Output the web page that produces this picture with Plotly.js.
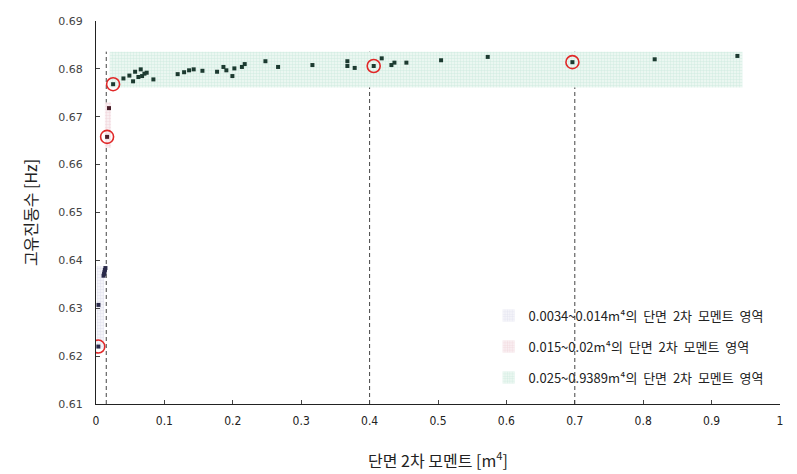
<!DOCTYPE html>
<html><head><meta charset="utf-8">
<script src="https://cdn.plot.ly/plotly-3.0.1.min.js"></script>
<style>body{margin:0;background:#fff}#c{width:797px;height:474px}</style>
</head><body><div id="c"></div>
<script>
// Region 1: 0.0034~0.014 m^4
const r1X = [0.0034, 0.0036, 0.0110, 0.0118, 0.0125, 0.0130, 0.0138];
const r1Y = [0.6220, 0.6307, 0.6368, 0.6372, 0.6376, 0.6380, 0.6384];
// Region 2: 0.015~0.02 m^4
const r2X = [0.0162, 0.0190];
const r2Y = [0.6658, 0.6718];
// Region 3: 0.025~0.9389 m^4
const r3X = [0.0250, 0.0401, 0.0488, 0.0542, 0.0572, 0.0620, 0.0654, 0.0674, 0.0708, 0.0741, 0.0839,
             0.1194, 0.1288, 0.1361, 0.1428, 0.1556, 0.1770, 0.1863, 0.1906, 0.1994, 0.2023, 0.2133, 0.2174,
             0.2477, 0.2662, 0.3164, 0.3675, 0.3675, 0.3782, 0.4060, 0.4177, 0.4319, 0.4363, 0.4538,
             0.5045, 0.5727, 0.6965, 0.8168, 0.9377];
const r3Y = [0.6768, 0.6780, 0.6786, 0.6774, 0.6794, 0.6783, 0.6799, 0.6785, 0.6790, 0.6792, 0.6778,
             0.6789, 0.6793, 0.6797, 0.6799, 0.6796, 0.6794, 0.6804, 0.6797, 0.6785, 0.6801, 0.6804, 0.6810,
             0.6816, 0.6804, 0.6808, 0.6816, 0.6806, 0.6802, 0.6806, 0.6822, 0.6808, 0.6813, 0.6813,
             0.6818, 0.6825, 0.6814, 0.6820, 0.6827];
// Highlighted (circled) points
const hiX = [0.0034, 0.0162, 0.0250, 0.4060, 0.6965];
const hiY = [0.6220, 0.6658, 0.6768, 0.6806, 0.6814];
// Region boxes [x0, x1, y0, y1]
const box1 = [0.001, 0.012, 0.6215, 0.6388];
const box2 = [0.013, 0.022, 0.6635, 0.6730];
const box3 = [0.020, 0.945, 0.6761, 0.6836];
// Dashed boundary lines
const dashX = [0.015, 0.4, 0.7];
const dashTop = 0.6836;
const legendNames = ['0.0034~0.014m⁴의  단면  2차  모멘트  영역',
                     '0.015~0.02m⁴의  단면  2차  모멘트  영역',
                     '0.025~0.9389m⁴의  단면  2차  모멘트  영역'];
const xTicks = [0, 0.1, 0.2, 0.3, 0.4, 0.5, 0.6, 0.7, 0.8, 0.9, 1];
const xTickText = ['0', '0.1', '0.2', '0.3', '0.4', '0.5', '0.6', '0.7', '0.8', '0.9', '1'];
const yTicks = [0.61, 0.62, 0.63, 0.64, 0.65, 0.66, 0.67, 0.68, 0.69];

const styles = [
  {fg: '#e6e6f1', bg: '#f9f9fc', leg: 'legend'},
  {fg: '#f3dce1', bg: '#fcf5f7', leg: 'legend2'},
  {fg: '#d6eee4', bg: '#f2faf6', leg: 'legend3'}
];
const boxes = [box1, box2, box3];
const traces = [];
boxes.forEach((b, i) => {
  const s = styles[i];
  traces.push({x: [b[0], b[1], b[1], b[0], b[0]], y: [b[2], b[2], b[3], b[3], b[2]],
    type: 'scatter', mode: 'none', fill: 'toself', fillcolor: s.bg, showlegend: false,
    fillpattern: {shape: '.', fgcolor: s.fg, bgcolor: s.bg, size: 3, solidity: 0.5},
    hoverinfo: 'skip'});
  traces.push({x: [null], y: [null], type: 'bar', name: legendNames[i], legend: s.leg,
    marker: {color: s.bg, line: {width: 0},
      pattern: {shape: '.', fgcolor: s.fg, bgcolor: s.bg, size: 3, solidity: 0.5}}});
});
traces.push(
  {x: r1X, y: r1Y, type: 'scatter', mode: 'markers', showlegend: false,
   marker: {symbol: 'square', size: 4, color: '#2a2a4a'}},
  {x: r2X, y: r2Y, type: 'scatter', mode: 'markers', showlegend: false,
   marker: {symbol: 'square', size: 4, color: '#4a1e2a'}},
  {x: r3X, y: r3Y, type: 'scatter', mode: 'markers', showlegend: false,
   marker: {symbol: 'square', size: 4, color: '#1c3a30'}},
  {x: hiX, y: hiY, type: 'scatter', mode: 'markers', showlegend: false,
   marker: {symbol: 'circle-open', size: 13, color: '#e02828', line: {width: 1.6, color: '#e02828'}}}
);
const shapes = dashX.map(x => ({type: 'line', xref: 'x', yref: 'y', x0: x, x1: x, y0: 0.61, y1: dashTop,
  line: {color: '#444', width: 1, dash: '4px,3px'}, layer: 'below'}));
const legFont = {family: 'Noto Sans CJK KR, Noto Sans, sans-serif', size: 13, color: '#222'};
function leg(y) { return {x: 0.574, y: y, xanchor: 'left', yanchor: 'middle', bgcolor: 'rgba(0,0,0,0)',
  font: legFont, itemwidth: 30}; }
const layout = {
  width: 797, height: 474,
  margin: {l: 96, r: 17, t: 21, b: 70},
  paper_bgcolor: '#fff', plot_bgcolor: '#fff',
  font: {family: 'Noto Sans CJK KR, sans-serif', color: '#222'},
  xaxis: {range: [0, 1], tickvals: xTicks, ticktext: xTickText, showgrid: false, zeroline: false,
    showline: true, linecolor: '#222', linewidth: 1, ticks: 'inside', ticklen: 4, tickcolor: '#444',
    ticklabelstandoff: 6,
    tickfont: {family: 'Liberation Sans Narrow, DejaVu Sans Condensed, sans-serif', size: 12, color: '#222'},
    title: {text: '단면 2차 모멘트 [m<sup>4</sup>]', font: {size: 16, family: 'Noto Sans CJK KR, sans-serif', color: '#222'}, standoff: 28}},
  yaxis: {range: [0.61, 0.69], tickvals: yTicks, tickformat: '.2f', showgrid: false, zeroline: false,
    showline: true, linecolor: '#222', linewidth: 1, ticks: 'inside', ticklen: 4, tickcolor: '#444',
    tickfont: {family: 'DejaVu Sans, sans-serif', size: 11, color: '#444'}, ticklabelstandoff: 10,
    title: {text: '고유진동수 [Hz]', font: {size: 16, family: 'Noto Sans CJK KR, sans-serif', color: '#222'}, standoff: 16}},
  shapes: shapes,
  legend: leg(0.231),
  legend2: leg(0.150),
  legend3: leg(0.069),
  showlegend: true
};
Plotly.newPlot('c', traces, layout, {displayModeBar: false, staticPlot: true});
</script></body></html>
